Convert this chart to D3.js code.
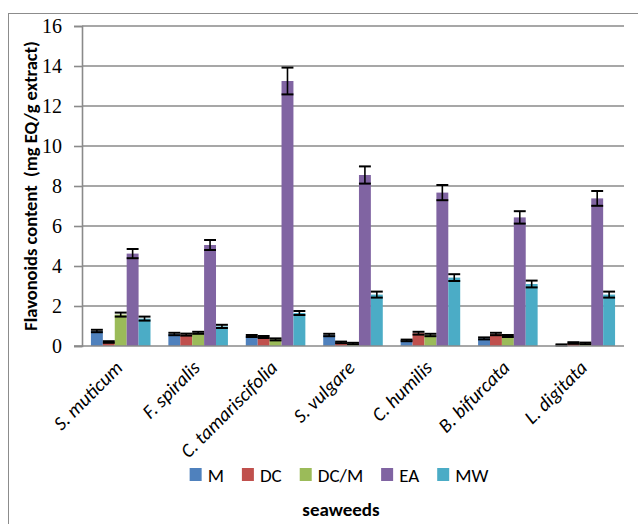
<!DOCTYPE html>
<html>
<head>
<meta charset="utf-8">
<script src="https://cdn.jsdelivr.net/npm/d3@7/dist/d3.min.js"></script>
<style>
  html, body { margin: 0; padding: 0; background: #fff; }
  svg { display: block; }
  text { white-space: pre; }
</style>
</head>
<body>
<svg id="chart" width="638" height="524"></svg>
<script>
// Flavonoid content per seaweed species and extraction solvent
const species = ["S. muticum", "F. spiralis", "C. tamariscifolia", "S. vulgare", "C. humilis", "B. bifurcata", "L. digitata"];
const solvents = ["M", "DC", "DC/M", "EA", "MW"];

const valM    = [0.75, 0.60, 0.50, 0.55, 0.28, 0.38, 0.05];
const valDC   = [0.20, 0.57, 0.45, 0.18, 0.64, 0.60, 0.15];
const valDCM  = [1.57, 0.66, 0.33, 0.12, 0.55, 0.50, 0.13];
const valEA   = [4.62, 5.05, 13.25, 8.55, 7.67, 6.43, 7.38];
const valMW   = [1.37, 0.98, 1.65, 2.57, 3.42, 3.10, 2.57];

const errM    = [0.06, 0.06, 0.05, 0.06, 0.04, 0.05, 0.03];
const errDC   = [0.04, 0.05, 0.05, 0.04, 0.07, 0.06, 0.04];
const errDCM  = [0.10, 0.05, 0.05, 0.04, 0.06, 0.05, 0.04];
const errEA   = [0.23, 0.25, 0.67, 0.43, 0.38, 0.31, 0.37];
const errMW   = [0.10, 0.08, 0.10, 0.15, 0.17, 0.17, 0.15];

const yTicks = [0, 2, 4, 6, 8, 10, 12, 14, 16];
const colors = ["#4F81BD", "#C0504D", "#9BBB59", "#8064A2", "#4BACC6"];

const yTitle = "Flavonoids content  (mg EQ/g extract)";
const xTitle = "seaweeds";

const values = [valM, valDC, valDCM, valEA, valMW];
const errors = [errM, errDC, errDCM, errEA, errMW];

const rows = [];
species.forEach((sp, i) => {
  solvents.forEach((s, j) => {
    rows.push({ species: sp, solvent: s, value: values[j][i], err: errors[j][i], color: colors[j] });
  });
});

const svg = d3.select("#chart");
const plot = { left: 82, right: 624, top: 26, bottom: 346 };
const gridColor = "#8a8a8a";
const sansFont = "Calibri, Carlito, Lato, sans-serif";

// outer chart frame
svg.append("rect")
  .attr("x", 8.5).attr("y", 13.5)
  .attr("width", 640).attr("height", 530)
  .attr("fill", "none").attr("stroke", "#8c8c8c").attr("stroke-width", 1);

const x0 = d3.scaleBand().domain(species).range([plot.left, plot.right]).padding(0);
const step = x0.bandwidth();
const gap = step * 0.75 / 6.5;
const x1 = d3.scaleBand().domain(solvents).range([gap, step - gap]).padding(0);
const y = d3.scaleLinear().domain([0, 16]).range([plot.bottom, plot.top]);

// horizontal gridlines
svg.append("g")
  .selectAll("line")
  .data(yTicks.filter(t => t > 0))
  .join("line")
  .attr("x1", plot.left).attr("x2", plot.right)
  .attr("y1", d => y(d)).attr("y2", d => y(d))
  .attr("stroke", gridColor).attr("stroke-width", 1.6);

// y axis with outward ticks
const yAxis = d3.axisLeft(y).tickValues(yTicks).tickSize(8).tickPadding(12).tickFormat(d3.format("d"));
const gy = svg.append("g").attr("transform", `translate(${plot.left},0)`).call(yAxis);
gy.select(".domain").attr("stroke", gridColor).attr("stroke-width", 1.6);
gy.selectAll(".tick line").attr("stroke", gridColor).attr("stroke-width", 1.6);
gy.selectAll(".tick text")
  .attr("font-family", "'Liberation Serif', 'Times New Roman', serif")
  .attr("font-size", 20).attr("fill", "#000");

// bars
const gBars = svg.append("g");
gBars.selectAll("rect")
  .data(rows)
  .join("rect")
  .attr("x", d => x0(d.species) + x1(d.solvent))
  .attr("y", d => y(d.value))
  .attr("width", x1.bandwidth())
  .attr("height", d => y(0) - y(d.value))
  .attr("fill", d => d.color);

// error bars
const gErr = svg.append("g").attr("stroke", "#000").attr("stroke-width", 1.6);
rows.forEach(d => {
  const cx = x0(d.species) + x1(d.solvent) + x1.bandwidth() / 2;
  const hw = x1.bandwidth() / 2;
  const yHi = y(d.value + d.err), yLo = y(Math.max(0, d.value - d.err));
  gErr.append("line").attr("x1", cx).attr("x2", cx).attr("y1", yHi).attr("y2", yLo);
  gErr.append("line").attr("x1", cx - hw).attr("x2", cx + hw).attr("y1", yHi).attr("y2", yHi).attr("stroke-width", 2);
  gErr.append("line").attr("x1", cx - hw).attr("x2", cx + hw).attr("y1", yLo).attr("y2", yLo).attr("stroke-width", 2);
});

// x axis baseline
svg.append("line")
  .attr("x1", plot.left - 8).attr("x2", plot.right)
  .attr("y1", y(0)).attr("y2", y(0))
  .attr("stroke", gridColor).attr("stroke-width", 1.6);

// category labels, slanted
svg.append("g")
  .selectAll("text")
  .data(species)
  .join("text")
  .attr("transform", d => `translate(${x0(d) + step / 2 + 3},${plot.bottom + 23}) rotate(-45)`)
  .attr("text-anchor", "end")
  .attr("font-family", sansFont)
  .attr("font-style", "italic")
  .attr("font-size", 19.5)
  .attr("fill", "#000")
  .text(d => d);

// y axis title
svg.append("text")
  .attr("transform", `translate(37,${(plot.top + plot.bottom) / 2}) rotate(-90)`)
  .attr("text-anchor", "middle")
  .attr("font-family", sansFont)
  .attr("font-weight", "bold")
  .attr("font-size", 18.5)
  .attr("fill", "#000")
  .text(yTitle);

// legend
const legend = svg.append("g");
const legendY = 482;
const sw = 12, swGap = 6, itemGap = 18;
const items = legend.selectAll("g").data(solvents).join("g");
items.append("rect")
  .attr("y", legendY - 14).attr("width", sw).attr("height", 13)
  .attr("fill", (d, i) => colors[i]);
items.append("text")
  .attr("x", sw + swGap).attr("y", legendY)
  .attr("font-family", sansFont).attr("font-size", 19).attr("fill", "#000")
  .text(d => d);
let cursor = 0;
const offsets = [];
items.each(function () {
  offsets.push(cursor);
  const w = d3.select(this).select("text").node().getComputedTextLength();
  cursor += sw + swGap + w + itemGap;
});
const legendWidth = cursor - itemGap;
const legendStart = 339 - legendWidth / 2;
items.attr("transform", (d, i) => `translate(${legendStart + offsets[i]},0)`);

// x axis title
svg.append("text")
  .attr("x", 341).attr("y", 516)
  .attr("text-anchor", "middle")
  .attr("font-family", sansFont)
  .attr("font-weight", "bold")
  .attr("font-size", 19)
  .attr("fill", "#000")
  .text(xTitle);
</script>
</body>
</html>
